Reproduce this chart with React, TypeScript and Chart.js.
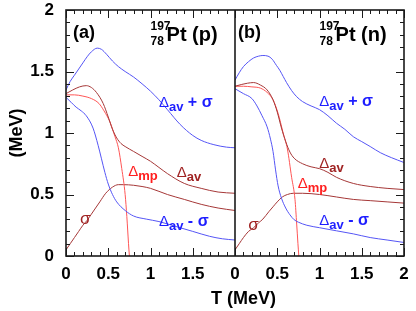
import React, { useEffect, useRef } from 'react';
import { Chart, registerables } from 'chart.js';

Chart.register(...registerables);

// ---------- panel (a): 197/78 Pt (p) ----------
const sumTA = [0, 0.05, 0.1, 0.15, 0.2, 0.25, 0.3, 0.37, 0.42, 0.48, 0.55, 0.62, 0.7, 0.8, 0.9, 1.0, 1.1, 1.2, 1.35, 1.5, 1.6, 1.75, 1.9, 2.0];
const sumA = [1.35, 1.42, 1.47, 1.52, 1.57, 1.62, 1.66, 1.69, 1.68, 1.64, 1.585, 1.54, 1.5, 1.455, 1.4, 1.34, 1.27, 1.19, 1.07, 0.98, 0.94, 0.905, 0.885, 0.88];

const diffTA = [0, 0.06, 0.12, 0.18, 0.24, 0.32, 0.38, 0.42, 0.46, 0.5, 0.55, 0.6, 0.7, 0.8, 0.95, 1.1, 1.3, 1.5, 1.7, 1.85, 2.0];
const diffA = [1.29, 1.25, 1.21, 1.18, 1.14, 1.04, 0.9, 0.79, 0.68, 0.585, 0.5, 0.44, 0.37, 0.325, 0.3, 0.28, 0.24, 0.2, 0.16, 0.14, 0.13];

const avTA = [0, 0.08, 0.16, 0.24, 0.3, 0.36, 0.44, 0.5, 0.55, 0.6, 0.65, 0.7, 0.8, 0.9, 1.0, 1.1, 1.2, 1.4, 1.6, 1.8, 2.0];
const avA = [1.32, 1.35, 1.375, 1.385, 1.37, 1.33, 1.24, 1.13, 1.03, 0.96, 0.915, 0.89, 0.85, 0.81, 0.77, 0.72, 0.67, 0.59, 0.55, 0.52, 0.51];

const mpTA = [0, 0.1, 0.2, 0.3, 0.39, 0.45, 0.52, 0.58, 0.62, 0.66, 0.7, 0.72, 0.74, 0.75];
const mpA = [1.31, 1.31, 1.3, 1.28, 1.24, 1.18, 1.09, 0.97, 0.88, 0.71, 0.5, 0.32, 0.1, 0.0];

const sigTA = [0, 0.05, 0.1, 0.15, 0.2, 0.25, 0.3, 0.35, 0.4, 0.47, 0.55, 0.62, 0.68, 0.8, 0.9, 1.0, 1.2, 1.4, 1.6, 1.8, 2.0];
const sigA = [0.05, 0.1, 0.15, 0.2, 0.25, 0.29, 0.34, 0.39, 0.44, 0.51, 0.56, 0.58, 0.58, 0.575, 0.565, 0.55, 0.5, 0.46, 0.42, 0.39, 0.37];

// ---------- panel (b): 197/78 Pt (n) ----------
const sumTB = [0, 0.05, 0.1, 0.16, 0.22, 0.28, 0.33, 0.39, 0.44, 0.49, 0.53, 0.57, 0.61, 0.67, 0.73, 0.8, 0.9, 1.0, 1.1, 1.2, 1.3, 1.4, 1.5, 1.6, 1.72, 1.85, 2.0];
const sumB = [1.43, 1.49, 1.54, 1.58, 1.61, 1.625, 1.63, 1.625, 1.6, 1.55, 1.51, 1.46, 1.41, 1.345, 1.295, 1.255, 1.22, 1.19, 1.14, 1.08, 1.03, 0.97, 0.93, 0.89, 0.84, 0.8, 0.76];

const diffTB = [0, 0.1, 0.2, 0.26, 0.32, 0.38, 0.42, 0.45, 0.48, 0.51, 0.55, 0.6, 0.65, 0.7, 0.75, 0.85, 1.0, 1.2, 1.4, 1.6, 1.8, 2.0];
const diffB = [1.36, 1.32, 1.28, 1.22, 1.14, 1.05, 0.95, 0.85, 0.7, 0.57, 0.47, 0.39, 0.335, 0.295, 0.275, 0.25, 0.23, 0.205, 0.18, 0.15, 0.13, 0.11];

const avTB = [0, 0.08, 0.15, 0.22, 0.3, 0.38, 0.45, 0.5, 0.55, 0.6, 0.65, 0.7, 0.8, 0.9, 1.0, 1.1, 1.2, 1.4, 1.6, 1.8, 2.0];
const avB = [1.38, 1.395, 1.405, 1.41, 1.39, 1.35, 1.27, 1.17, 1.04, 0.93, 0.845, 0.795, 0.75, 0.725, 0.71, 0.68, 0.64, 0.59, 0.565, 0.55, 0.54];

const mpTB = [0, 0.1, 0.2, 0.3, 0.38, 0.45, 0.51, 0.57, 0.62, 0.67, 0.71, 0.73, 0.745, 0.755];
const mpB = [1.38, 1.38, 1.375, 1.365, 1.33, 1.27, 1.16, 1.0, 0.87, 0.64, 0.46, 0.26, 0.1, 0.0];

const sigTB = [0, 0.05, 0.1, 0.16, 0.22, 0.28, 0.33, 0.4, 0.45, 0.5, 0.56, 0.62, 0.69, 0.8, 1.0, 1.2, 1.4, 1.6, 1.8, 2.0];
const sigB = [0.05, 0.1, 0.15, 0.2, 0.23, 0.27, 0.3, 0.36, 0.4, 0.44, 0.48, 0.5, 0.51, 0.51, 0.5, 0.48, 0.46, 0.45, 0.44, 0.43];

// ---------- axis ticks ----------
const xTickValues = [0, 0.5, 1, 1.5, 2];
const yTickValues = [0, 0.5, 1, 1.5, 2];

// ---------- styles ----------
const FAM = '"Liberation Sans", Arial, Helvetica, sans-serif';
const BLUE = 'rgb(85,85,245)';
const RED = 'rgb(255,85,85)';
const DARK = 'rgb(165,55,55)';
const BLUE_T = 'rgb(30,30,255)';
const RED_T = 'rgb(255,30,30)';
const DARK_T = 'rgb(160,35,35)';
const FRAME = '#1a1a1a';

const F_DELTA = '15px ' + FAM;
const F_SUB = 'bold 13px ' + FAM;
const F_MAIN = 'bold 16px ' + FAM;

type Part = [string, string, number];
type Label = { axis: string; t: number; v: number; color: string; parts: Part[] };

const curveLabels: Label[] = [
  { axis: 'xa', t: 1.1, v: 1.211, color: BLUE_T, parts: [['Δ', F_DELTA, 0], ['av', F_SUB, 4], [' + σ', F_MAIN, 0]] },
  { axis: 'xa', t: 0.737, v: 0.65, color: RED_T, parts: [['Δ', F_DELTA, 0], ['mp', F_SUB, 4]] },
  { axis: 'xa', t: 1.31, v: 0.645, color: DARK_T, parts: [['Δ', F_DELTA, 0], ['av', F_SUB, 4]] },
  { axis: 'xa', t: 0.166, v: 0.26, color: DARK_T, parts: [['σ', '17px ' + FAM, 0]] },
  { axis: 'xa', t: 1.1, v: 0.244, color: BLUE_T, parts: [['Δ', F_DELTA, 0], ['av', F_SUB, 4], [' - σ', F_MAIN, 0]] },
  { axis: 'xb', t: 0.997, v: 1.22, color: BLUE_T, parts: [['Δ', F_DELTA, 0], ['av', F_SUB, 4], [' + σ', F_MAIN, 0]] },
  { axis: 'xb', t: 0.997, v: 0.715, color: DARK_T, parts: [['Δ', F_DELTA, 0], ['av', F_SUB, 4]] },
  { axis: 'xb', t: 0.742, v: 0.555, color: RED_T, parts: [['Δ', F_DELTA, 0], ['mp', F_SUB, 4]] },
  { axis: 'xb', t: 0.158, v: 0.211, color: DARK_T, parts: [['σ', '17px ' + FAM, 0]] },
  { axis: 'xb', t: 0.997, v: 0.252, color: BLUE_T, parts: [['Δ', F_DELTA, 0], ['av', F_SUB, 4], [' - σ', F_MAIN, 0]] },
];

const panelTags = [
  { axis: 'xa', tag: '(a)', kind: '(p)' },
  { axis: 'xb', tag: '(b)', kind: '(n)' },
];

function pts(t: number[], v: number[]) {
  return t.map((x, i) => ({ x, y: v[i] }));
}

function line(label: string, t: number[], v: number[], color: string, axis: string) {
  return {
    label,
    data: pts(t, v),
    xAxisID: axis,
    yAxisID: 'y',
    borderColor: color,
    borderWidth: 1,
    pointRadius: 0,
    fill: false,
    cubicInterpolationMode: 'monotone' as const,
  };
}

const decor = {
  id: 'decor',
  afterDatasetsDraw(chart: any) {
    const { ctx, chartArea: ca, scales } = chart;
    const y = scales.y;
    ctx.save();
    // inside ticks
    ctx.strokeStyle = FRAME;
    ctx.lineWidth = 1;
    ctx.beginPath();
    for (const id of ['xa', 'xb']) {
      const s = scales[id];
      for (let i = 0; i <= 20; i++) {
        const px = Math.round(s.getPixelForValue(i / 10)) + 0.5;
        const len = i % 5 === 0 ? 8 : 4;
        ctx.moveTo(px, ca.bottom);
        ctx.lineTo(px, ca.bottom - len);
        ctx.moveTo(px, ca.top);
        ctx.lineTo(px, ca.top + len);
      }
    }
    for (let i = 0; i <= 20; i++) {
      const py = Math.round(y.getPixelForValue(i / 10)) + 0.5;
      const len = i % 5 === 0 ? 8 : 4;
      ctx.moveTo(ca.left, py);
      ctx.lineTo(ca.left + len, py);
      ctx.moveTo(ca.right, py);
      ctx.lineTo(ca.right - len, py);
    }
    ctx.stroke();
    // frame + divider
    ctx.lineWidth = 1.6;
    ctx.strokeRect(ca.left, ca.top, ca.right - ca.left, ca.bottom - ca.top);
    ctx.beginPath();
    const mid = scales.xa.right;
    ctx.moveTo(mid, ca.top);
    ctx.lineTo(mid, ca.bottom);
    ctx.stroke();

    // curve labels
    ctx.textBaseline = 'alphabetic';
    ctx.textAlign = 'left';
    for (const lb of curveLabels) {
      let x = scales[lb.axis].getPixelForValue(lb.t);
      const by = y.getPixelForValue(lb.v);
      ctx.fillStyle = lb.color;
      for (const [txt, font, dy] of lb.parts) {
        ctx.font = font;
        ctx.fillText(txt, x, by + dy);
        x += ctx.measureText(txt).width;
      }
    }

    // panel tags
    ctx.fillStyle = '#000';
    for (const p of panelTags) {
      const s = scales[p.axis];
      const x0 = s.left;
      ctx.font = 'bold 18px ' + FAM;
      ctx.fillText(p.tag, x0 + (p.axis === 'xa' ? 7 : 3), ca.top + 28);
      const sx = s.getPixelForValue(1.0);
      ctx.font = 'bold 12px ' + FAM;
      ctx.fillText('197', sx, ca.top + 19.5);
      ctx.fillText('78', sx, ca.top + 35);
      ctx.font = 'bold 20px ' + FAM;
      ctx.fillText('Pt ' + p.kind, s.getPixelForValue(1.19), ca.top + 30.5);
    }

    // x axis title
    ctx.font = 'bold 18px ' + FAM;
    ctx.textAlign = 'center';
    ctx.textBaseline = 'middle';
    ctx.fillText('T (MeV)', scales.xb.getPixelForValue(0.1), ca.bottom + 43);
    ctx.restore();
  },
};

const tickFont = { family: FAM, size: 17, weight: 'bold' as const };

function xScale(hideLast: boolean) {
  return {
    type: 'linear' as const,
    min: 0,
    max: 2,
    position: 'bottom' as const,
    stack: 'panels',
    stackWeight: 1,
    grid: { display: false, drawTicks: false },
    border: { display: false },
    afterBuildTicks(s: any) {
      s.ticks = xTickValues.map((value) => ({ value }));
    },
    ticks: {
      autoSkip: false,
      maxRotation: 0,
      padding: 8,
      color: '#000',
      font: tickFont,
      callback: (v: any) => (hideLast && v >= 2 ? '' : String(v)),
    },
    afterFit(s: any) {
      s.height = 55;
      s.paddingLeft = 0;
      s.paddingRight = 0;
    },
  };
}

export default function App() {
  const ref = useRef<HTMLCanvasElement>(null);
  useEffect(() => {
    if (!ref.current) return;
    const chart = new Chart(ref.current, {
      type: 'line',
      data: {
        datasets: [
          line('Δav+σ (a)', sumTA, sumA, BLUE, 'xa'),
          line('Δav-σ (a)', diffTA, diffA, BLUE, 'xa'),
          line('Δav (a)', avTA, avA, DARK, 'xa'),
          line('Δmp (a)', mpTA, mpA, RED, 'xa'),
          line('σ (a)', sigTA, sigA, DARK, 'xa'),
          line('Δav+σ (b)', sumTB, sumB, BLUE, 'xb'),
          line('Δav-σ (b)', diffTB, diffB, BLUE, 'xb'),
          line('Δav (b)', avTB, avB, DARK, 'xb'),
          line('Δmp (b)', mpTB, mpB, RED, 'xb'),
          line('σ (b)', sigTB, sigB, DARK, 'xb'),
        ] as any,
      },
      options: {
        animation: false,
        responsive: false,
        maintainAspectRatio: false,
        parsing: false as any,
        layout: { padding: { left: 0, right: 12, top: 10, bottom: 0 } },
        plugins: { legend: { display: false }, tooltip: { enabled: false } },
        scales: {
          xa: xScale(true) as any,
          xb: xScale(false) as any,
          y: {
            min: 0,
            max: 2,
            position: 'left',
            grid: { display: false, drawTicks: false },
            border: { display: false },
            afterBuildTicks(s: any) {
              s.ticks = yTickValues.map((value) => ({ value }));
            },
            ticks: { padding: 12, color: '#000', font: tickFont, callback: (v: any) => String(v) },
            title: {
              display: true,
              text: '(MeV)',
              color: '#000',
              font: { family: FAM, size: 18, weight: 'bold' },
              padding: { top: 6, bottom: 0 },
            },
            afterFit(s: any) {
              s.width = 66;
              s.paddingTop = 0;
              s.paddingBottom = 0;
            },
          } as any,
        },
      },
      plugins: [decor],
    });
    return () => chart.destroy();
  }, []);
  return (
    <div style={{ position: 'absolute', left: 0, top: 0, width: 416, height: 311, background: '#fff' }}>
      <canvas ref={ref} width={416} height={311} style={{ display: 'block' }} />
    </div>
  );
}
